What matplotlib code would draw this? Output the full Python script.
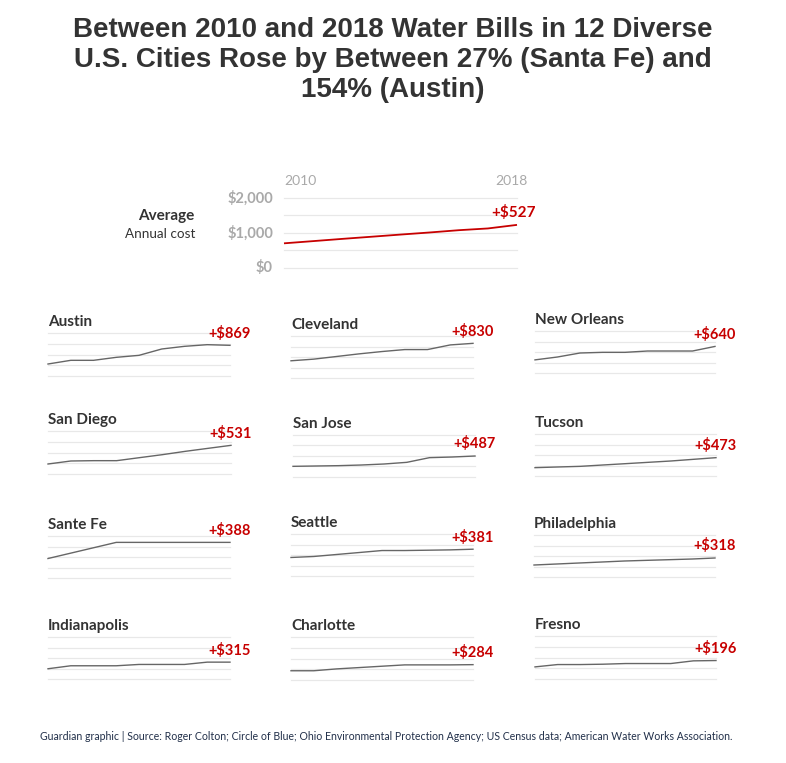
import matplotlib
matplotlib.use("Agg")
import matplotlib.pyplot as plt

# ---------------- data ----------------
years = [2010, 2011, 2012, 2013, 2014, 2015, 2016, 2017, 2018]

avg_cost = [705, 768, 832, 893, 955, 1015, 1080, 1130, 1232]
avg_label = "+$527"

cities = ["Austin", "Cleveland", "New Orleans",
          "San Diego", "San Jose", "Tucson",
          "Sante Fe", "Seattle", "Philadelphia",
          "Indianapolis", "Charlotte", "Fresno"]

austin = [558, 729, 729, 868, 961, 1256, 1380, 1457, 1427]
cleveland = [820, 898, 1024, 1150, 1260, 1354, 1354, 1575, 1650]
new_orleans = [625, 762, 952, 984, 984, 1047, 1047, 1047, 1265]
san_diego = [465, 605, 620, 620, 760, 899, 1054, 1194, 1333]
san_jose = [508, 524, 540, 571, 619, 698, 921, 952, 1000]
tucson = [397, 429, 460, 524, 587, 651, 714, 794, 873]
santa_fe = [928, 1184, 1440, 1696, 1696, 1696, 1696, 1696, 1696]
seattle = [882, 929, 1024, 1118, 1213, 1213, 1228, 1244, 1276]
philadelphia = [571, 619, 667, 714, 762, 794, 825, 857, 905]
indianapolis = [488, 630, 630, 630, 693, 693, 693, 803, 803]
charlotte = [430, 430, 516, 578, 641, 703, 703, 703, 714]
fresno = [563, 672, 672, 688, 719, 719, 719, 844, 859]

series = [austin, cleveland, new_orleans, san_diego, san_jose, tucson,
          santa_fe, seattle, philadelphia, indianapolis, charlotte, fresno]

change_labels = ["+$869", "+$830", "+$640", "+$531", "+$487", "+$473",
                 "+$388", "+$381", "+$318", "+$315", "+$284", "+$196"]

grid_values = [0, 500, 1000, 1500, 2000]
avg_tick_values = [0, 1000, 2000]
avg_tick_labels = ["$0", "$1,000", "$2,000"]

title = ("Between 2010 and 2018 Water Bills in 12 Diverse\n"
         "U.S. Cities Rose by Between 27% (Santa Fe) and\n"
         "154% (Austin)")
source = ("Guardian graphic | Source: Roger Colton; Circle of Blue; Ohio Environmental "
          "Protection Agency; US Census data; American Water Works Association.")

# ---------------- layout (pixels: left, right, top, bottom) ----------------
W, H = 786, 763
panel_boxes = [
    (48, 230, 333, 376), (291, 473, 336, 378), (535, 715, 331, 373),
    (48, 231, 431, 474), (293, 475, 435, 477), (535, 716, 434, 476),
    (48, 230, 536, 578), (291, 473, 534, 576), (534, 715, 535, 577),
    (48, 230, 637, 679), (291, 473, 637, 680), (535, 716, 636, 679),
]
avg_box = (284, 517, 198, 268)

FONT = "Lato"
RED = "#c70000"
DARK = "#333333"
GRID = "#e8e8e8"
GREY_TXT = "#a9a9a9"

fig = plt.figure(figsize=(W / 100, H / 100), dpi=100)
fig.patch.set_facecolor("white")


def add_axes(box):
    l, r, t, b = box
    return fig.add_axes([l / W, 1 - b / H, (r - l) / W, (b - t) / H])


def fx(x):
    return x / W


def fy(y):
    return 1 - y / H


# title
fig.text(0.5, fy(60), title, ha="center", va="center", fontsize=20,
         fontweight="bold", color=DARK, family="Liberation Sans",
         linespacing=1.18)

# ---------------- average chart ----------------
ax = add_axes(avg_box)
ax.set_xlim(years[0], years[-1])
ax.set_ylim(0, 2000)
ax.axis("off")
for g in grid_values:
    ax.axhline(g, color=GRID, lw=0.9, clip_on=False, zorder=1)
ax.plot(years, avg_cost, color=RED, lw=1.3, zorder=3, clip_on=False,
        solid_capstyle="butt")
ax.annotate(avg_label, xy=(years[-1], avg_cost[-1]), xytext=(19, 12),
            textcoords="offset pixels", ha="right", va="center",
            fontsize=11, fontweight="bold", color=RED, family=FONT)
for v, lab in zip(avg_tick_values, avg_tick_labels):
    ax.annotate(lab, xy=(years[0], v), xytext=(-11, 0), textcoords="offset pixels",
                ha="right", va="center", fontsize=10.5, color=GREY_TXT,
                family=FONT, fontweight="bold")
ax.annotate(str(years[0]), xy=(years[0], 2000), xytext=(0, 17),
            textcoords="offset pixels", ha="left", va="center",
            fontsize=10, color=GREY_TXT, family=FONT)
ax.annotate(str(years[-1]), xy=(years[-1], 2000), xytext=(11, 17),
            textcoords="offset pixels", ha="right", va="center",
            fontsize=10, color=GREY_TXT, family=FONT)

fig.text(fx(194), fy(216), "Average", ha="right", va="center", fontsize=11,
         fontweight="bold", color=DARK, family=FONT)
fig.text(fx(195), fy(234), "Annual cost", ha="right", va="center", fontsize=9.7,
         color=DARK, family=FONT)

# ---------------- small multiples ----------------
for city, vals, lab, box in zip(cities, series, change_labels, panel_boxes):
    ax = add_axes(box)
    ax.set_xlim(years[0], years[-1])
    ax.set_ylim(0, 2000)
    ax.axis("off")
    for g in grid_values:
        ax.axhline(g, color=GRID, lw=0.9, clip_on=False, zorder=1)
    ax.plot(years, vals, color="#666666", lw=1.0, zorder=3, clip_on=False)
    ax.annotate(lab, xy=(years[-1], vals[-1]), xytext=(21, 12),
                textcoords="offset pixels", ha="right", va="center",
                fontsize=10.5, fontweight="bold", color=RED, family=FONT)
    l, r, t, b = box
    fig.text(fx(l), fy(t - 7), city, ha="left", va="baseline", fontsize=11,
             fontweight="bold", color=DARK, family=FONT)

# source
fig.text(fx(40), fy(737), source, ha="left", va="center", fontsize=7.6,
         color="#22304a", family=FONT)

fig.savefig("out.png", dpi=100, facecolor="white")
